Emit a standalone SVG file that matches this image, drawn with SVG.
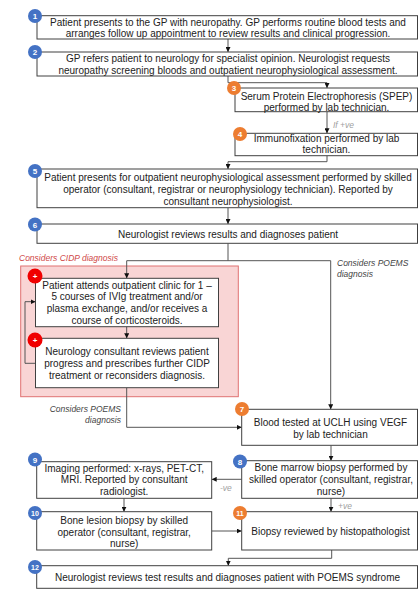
<svg xmlns="http://www.w3.org/2000/svg" width="418" height="589" viewBox="0 0 418 589">
<defs>
<marker id="arr" viewBox="0 0 6 6" refX="6" refY="3" markerWidth="5" markerHeight="5" orient="auto" markerUnits="userSpaceOnUse">
<path d="M0,0 L6,3 L0,6 z" fill="#111"/>
</marker>
<style>
.box{fill:#fff;stroke:#404040;stroke-width:1}
.t{font-family:"Liberation Sans",Arial,sans-serif;font-size:10px;fill:#222;text-anchor:middle}
.n{font-family:"Liberation Sans",Arial,sans-serif;font-size:8px;font-weight:bold;fill:#fff;text-anchor:middle}
.cb{fill:#4472c4}
.co{fill:#ed7d31}
.cr{fill:#f00000}
.ln{fill:none;stroke:#555;stroke-width:1}
.lbl{font-family:"Liberation Sans",Arial,sans-serif;font-style:italic;font-size:8.5px;fill:#444}
.g{font-family:"Liberation Sans",Arial,sans-serif;font-style:italic;font-size:8.5px;fill:#a0a0a0}
</style>
</defs>
<rect width="418" height="589" fill="#fff"/>

<g id="cidp-region">
<rect x="20.7" y="266" width="217.6" height="130.7" fill="#f9d5d5" stroke="#e07272" stroke-width="1"/>
<text x="19" y="260.5" class="lbl" style="fill:#d04848">Considers CIDP diagnosis</text>
</g>

<g id="connectors">
<path class="ln" d="M228,39 V52" marker-end="url(#arr)"/>
<path class="ln" d="M228,76 V82.7 H327 V88" marker-end="url(#arr)"/>
<path class="ln" d="M327,111.7 V133.3" marker-end="url(#arr)"/>
<path class="ln" d="M327,155.7 V161.7 H228 V169" marker-end="url(#arr)"/>
<path class="ln" d="M228,207.7 V224" marker-end="url(#arr)"/>
<path class="ln" d="M228,243.3 V260.7"/>
<path class="ln" d="M126.7,260.7 H330.7"/>
<path class="ln" d="M126.7,260.7 V278.3" marker-end="url(#arr)"/>
<path class="ln" d="M330.7,260.7 V409.3" marker-end="url(#arr)"/>
<path class="ln" d="M126.7,326.7 V338.3" marker-end="url(#arr)"/>
<path class="ln" d="M35.5,363.3 H25 V301.7 H35.5" marker-end="url(#arr)"/>
<path class="ln" d="M126.7,387.7 V427.3 H241.7" marker-end="url(#arr)"/>
<path class="ln" d="M331,445.3 V460.7" marker-end="url(#arr)"/>
<path class="ln" d="M241.7,479.3 H211.7" marker-end="url(#arr)"/>
<path class="ln" d="M331,498.3 V511.7" marker-end="url(#arr)"/>
<path class="ln" d="M124,498.3 V511.7" marker-end="url(#arr)"/>
<path class="ln" d="M211.7,531 H241.7" marker-end="url(#arr)"/>
<path class="ln" d="M331.7,550 V558.3 H228.3 V565.7" marker-end="url(#arr)"/>
<text x="333" y="128" class="g">If +ve</text>
<text x="337" y="265.5" class="lbl">Considers POEMS</text>
<text x="337" y="276.5" class="lbl">diagnosis</text>
<text x="121" y="411.5" class="lbl" text-anchor="end">Considers POEMS</text>
<text x="121" y="422.5" class="lbl" text-anchor="end">diagnosis</text>
<text x="220" y="490.5" class="g">-ve</text>
<text x="338" y="509" class="g">+ve</text>
</g>

<g id="node1">
<rect class="box" x="37" y="15.7" width="380.5" height="23.3"/>
<text class="t" x="228" y="25.5">Patient presents to the GP with neuropathy. GP performs routine blood tests and</text>
<text class="t" x="228" y="36.5">arranges follow up appointment to review results and clinical progression.</text>
<circle class="cb" cx="35" cy="16" r="7"/><text class="n" x="35" y="19">1</text>
</g>

<g id="node2">
<rect class="box" x="37" y="52" width="380.5" height="24"/>
<text class="t" x="228" y="62">GP refers patient to neurology for specialist opinion. Neurologist requests</text>
<text class="t" x="228" y="73.5">neuropathy screening bloods and outpatient neurophysiological assessment.</text>
<circle class="cb" cx="35" cy="52" r="7"/><text class="n" x="35" y="55">2</text>
</g>

<g id="node3">
<rect class="box" x="235" y="88" width="182.5" height="23.7"/>
<text class="t" x="326.5" y="100.3">Serum Protein Electrophoresis (SPEP)</text>
<text class="t" x="326.5" y="110.5">performed by lab technician.</text>
<circle class="co" cx="234" cy="88" r="7"/><text class="n" x="234" y="91">3</text>
</g>

<g id="node4">
<rect class="box" x="235" y="133.3" width="182.5" height="22.4"/>
<text class="t" x="326.5" y="141.8">Immunofixation performed by lab</text>
<text class="t" x="326.5" y="153.2">technician.</text>
<circle class="co" cx="240" cy="134" r="7"/><text class="n" x="240" y="137">4</text>
</g>

<g id="node5">
<rect class="box" x="37" y="169" width="380.5" height="38.7"/>
<text class="t" x="228" y="180.5">Patient presents for outpatient neurophysiological  assessment performed by skilled</text>
<text class="t" x="228" y="192.5">operator (consultant, registrar or neurophysiology  technician). Reported by</text>
<text class="t" x="228" y="204.5">consultant neurophysiologist.</text>
<circle class="cb" cx="35" cy="171" r="7"/><text class="n" x="35" y="174">5</text>
</g>

<g id="node6">
<rect class="box" x="37" y="224" width="380.5" height="19.3"/>
<text class="t" x="228" y="237.5">Neurologist reviews results and diagnoses patient</text>
<circle class="cb" cx="35" cy="224.5" r="7"/><text class="n" x="35" y="227.5">6</text>
</g>

<g id="node-cidp1">
<rect class="box" x="35.5" y="278.3" width="183" height="48.4"/>
<text class="t" x="127" y="288.5">Patient attends outpatient clinic for 1 –</text>
<text class="t" x="127" y="300.2">5 courses of IVIg  treatment and/or</text>
<text class="t" x="127" y="312">plasma exchange, and/or receives a</text>
<text class="t" x="127" y="323.5">course of corticosteroids.</text>
<circle class="cr" cx="35" cy="276" r="7.5"/><text class="n" x="35" y="279">+</text>
</g>

<g id="node-cidp2">
<rect class="box" x="35.5" y="338.3" width="183" height="49.4"/>
<text class="t" x="127" y="355.2">Neurology  consultant reviews patient</text>
<text class="t" x="127" y="366.8">progress and prescribes further CIDP</text>
<text class="t" x="127" y="378.5">treatment or reconsiders diagnosis.</text>
<circle class="cr" cx="35" cy="340" r="7.5"/><text class="n" x="35" y="343">+</text>
</g>

<g id="node7">
<rect class="box" x="241.7" y="409.3" width="175.8" height="36"/>
<text class="t" x="330.5" y="426.2">Blood tested at UCLH using VEGF</text>
<text class="t" x="330.5" y="437.8">by lab technician</text>
<circle class="co" cx="242" cy="409" r="7"/><text class="n" x="242" y="412">7</text>
</g>

<g id="node8">
<rect class="box" x="241.7" y="460.7" width="175.8" height="37.6"/>
<text class="t" x="331" y="470.8">Bone marrow biopsy performed by</text>
<text class="t" x="331" y="482.8">skilled operator (consultant, registrar,</text>
<text class="t" x="331" y="494.5">nurse)</text>
<circle class="cb" cx="240" cy="461.5" r="7"/><text class="n" x="240" y="464.5">8</text>
</g>

<g id="node9">
<rect class="box" x="36.7" y="461.7" width="175" height="36.6"/>
<text class="t" x="124.2" y="471.8">Imaging performed: x-rays, PET-CT,</text>
<text class="t" x="124.2" y="483.2">MRI. Reported by consultant</text>
<text class="t" x="124.2" y="494.8">radiologist.</text>
<circle class="cb" cx="35" cy="459.5" r="7"/><text class="n" x="35" y="462.5">9</text>
</g>

<g id="node10">
<rect class="box" x="36.7" y="511.7" width="175" height="38.3"/>
<text class="t" x="124.2" y="523.5">Bone lesion biopsy by skilled</text>
<text class="t" x="124.2" y="535.5">operator (consultant, registrar,</text>
<text class="t" x="124.2" y="547">nurse)</text>
<circle class="cb" cx="35" cy="513" r="7"/><text class="n" x="35" y="516" style="font-size:7px">10</text>
</g>

<g id="node11">
<rect class="box" x="241.7" y="511.7" width="175.8" height="38.3"/>
<text class="t" x="330.5" y="535.2">Biopsy reviewed by histopathologist</text>
<circle class="co" cx="240" cy="513" r="7"/><text class="n" x="240" y="516" style="font-size:7px">11</text>
</g>

<g id="node12">
<rect class="box" x="36.7" y="565.7" width="380.8" height="22.6"/>
<text class="t" x="227.5" y="580.8">Neurologist reviews test results and diagnoses patient with POEMS syndrome</text>
<circle class="cb" cx="35" cy="567" r="7"/><text class="n" x="35" y="570" style="font-size:7px">12</text>
</g>
</svg>
